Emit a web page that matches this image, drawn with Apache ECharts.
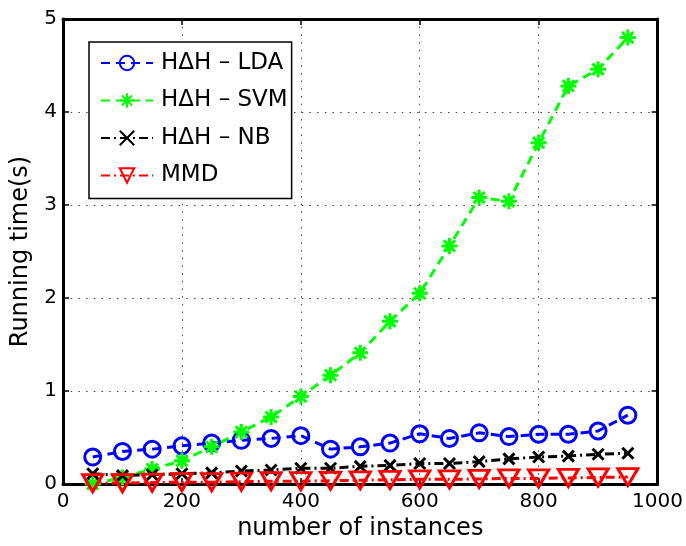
<!DOCTYPE html>
<html>
<head>
<meta charset="utf-8">
<script src="https://cdn.jsdelivr.net/npm/echarts@6/dist/echarts.min.js"></script>
<style>
  html, body { margin: 0; padding: 0; background: #fff; }
  #chart { width: 686px; height: 546px; }
</style>
</head>
<body>
<div id="chart"></div>
<script>
// data
var instances = [50, 100, 150, 200, 250, 300, 350, 400, 450, 500, 550, 600, 650, 700, 750, 800, 850, 900, 950];
var ldaTime = [0.29, 0.35, 0.375, 0.41, 0.44, 0.47, 0.49, 0.52, 0.375, 0.40, 0.44, 0.54, 0.49, 0.55, 0.51, 0.535, 0.535, 0.57, 0.74];
var svmTime = [0.0, 0.07, 0.16, 0.25, 0.40, 0.56, 0.72, 0.94, 1.17, 1.41, 1.75, 2.05, 2.56, 3.08, 3.04, 3.67, 4.28, 4.46, 4.80];
var nbTime = [0.11, 0.09, 0.10, 0.11, 0.12, 0.14, 0.15, 0.17, 0.17, 0.19, 0.20, 0.22, 0.22, 0.24, 0.27, 0.29, 0.30, 0.32, 0.33];
var mmdTime = [0.01, 0.01, 0.015, 0.02, 0.02, 0.025, 0.03, 0.03, 0.035, 0.04, 0.045, 0.05, 0.05, 0.055, 0.06, 0.06, 0.065, 0.07, 0.075];
var seriesNames = ['H\u0394H \u2013 LDA', 'H\u0394H \u2013 SVM', 'H\u0394H \u2013 NB', 'MMD'];
var xTicks = { min: 0, max: 1000, interval: 200 };
var yTicks = { min: 0, max: 5, interval: 1 };

var FONT = '"DejaVu Sans", sans-serif';
var dashed = [9, 6];
var dashDot = [9, 4, 2, 4];

function pairs(ys) {
  return instances.map(function (x, i) { return [x, ys[i]]; });
}

function axisBase(pos, showLabel) {
  return {
    type: 'value',
    position: pos,
    axisLine: { show: true, onZero: false, lineStyle: { color: '#000', width: 3 } },
    axisTick: { show: true, inside: true, length: 6, lineStyle: { color: '#000', width: 1.5 } },
    axisLabel: { show: showLabel, color: '#000', fontFamily: FONT, fontSize: 20, formatter: function (v) { return String(v); } },
    splitLine: { show: false }
  };
}

var gridDots = { show: true, lineStyle: { color: '#444', width: 1, type: [1.5, 6.2] } };

var xMain = axisBase('bottom', true);
Object.assign(xMain, xTicks, {
  name: 'number of instances',
  nameLocation: 'middle',
  nameGap: 33,
  nameTextStyle: { color: '#000', fontFamily: FONT, fontSize: 24 },
  splitLine: gridDots
});
xMain.axisLabel.margin = 8;
var xTop = axisBase('top', false);
Object.assign(xTop, xTicks);

var yMain = axisBase('left', true);
Object.assign(yMain, yTicks, {
  name: 'Running time(s)',
  nameLocation: 'middle',
  nameGap: 30,
  nameTextStyle: { color: '#000', fontFamily: FONT, fontSize: 24 },
  splitLine: gridDots
});
yMain.axisLabel.margin = 6;
var yRight = axisBase('right', false);
Object.assign(yRight, yTicks);

var chart = echarts.init(document.getElementById('chart'), null, { renderer: 'canvas' });
chart.setOption({
  backgroundColor: '#fff',
  animation: false,
  grid: { left: 63, right: 28, top: 19, bottom: 59 },
  xAxis: [xMain, xTop],
  yAxis: [yMain, yRight],
  legend: {
    orient: 'vertical',
    left: 89,
    top: 42,
    padding: [9, 4, 11, 11],
    itemWidth: 52,
    itemHeight: 18,
    itemGap: 13.5,
    backgroundColor: '#fff',
    borderColor: '#000',
    borderWidth: 1.5,
    borderRadius: 0,
    textStyle: { color: '#000', fontFamily: FONT, fontSize: 23, lineHeight: 24, padding: [0, 0, 0, 3] },
    data: seriesNames
  },
  series: [
    {
      name: seriesNames[0],
      type: 'line',
      data: pairs(ldaTime),
      symbol: 'circle',
      symbolSize: 16,
      itemStyle: { color: 'rgba(0,0,0,0)', borderColor: '#0000ff', borderWidth: 3 },
      lineStyle: { color: '#0000ff', width: 3, type: dashed }
    },
    {
      name: seriesNames[1],
      type: 'line',
      data: pairs(svmTime),
      symbol: 'path://M0,-10L0,10M-10,0L10,0M-7,-7L7,7M-7,7L7,-7',
      symbolSize: 16,
      itemStyle: { color: '#00ff00', borderColor: '#00ff00', borderWidth: 3 },
      lineStyle: { color: '#00ff00', width: 3, type: dashed }
    },
    {
      name: seriesNames[2],
      type: 'line',
      data: pairs(nbTime),
      symbol: 'path://M-10,-10L10,10M-10,10L10,-10',
      symbolSize: 11,
      itemStyle: { color: '#000', borderColor: '#000', borderWidth: 3 },
      lineStyle: { color: '#000', width: 3, type: dashDot }
    },
    {
      name: seriesNames[3],
      type: 'line',
      data: pairs(mmdTime),
      symbol: 'path://M-10,-8L10,-8L0,10Z',
      symbolSize: [20, 17],
      itemStyle: { color: 'rgba(0,0,0,0)', borderColor: '#ff0000', borderWidth: 3 },
      lineStyle: { color: '#ff0000', width: 3, type: dashDot }
    }
  ]
});
</script>
</body>
</html>
